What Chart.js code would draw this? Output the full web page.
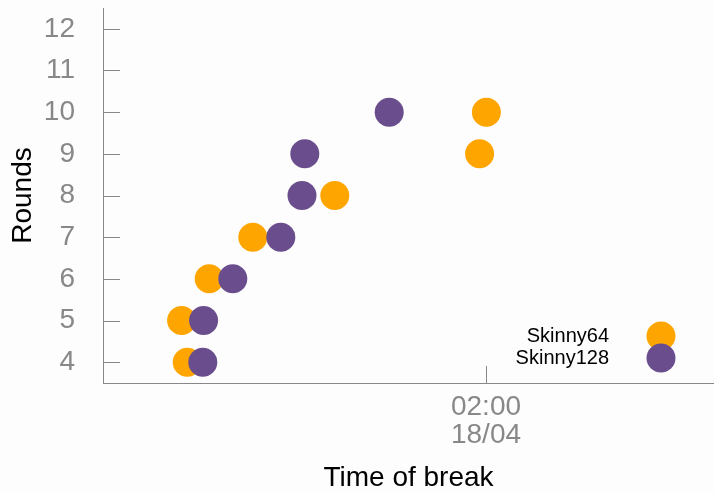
<!DOCTYPE html>
<html>
<head>
<meta charset="utf-8">
<script src="https://cdn.jsdelivr.net/npm/chart.js@4/dist/chart.umd.min.js"></script>
<style>
  body { margin: 0; background: #fdfdfd; }
  #wrap { width: 714px; height: 493px; }
</style>
</head>
<body>
<div id="wrap"><canvas id="graficoRondas"></canvas></div>
<script>
// hours relative to 18/04 00:00
const rondas = [4, 5, 6, 7, 8, 9, 10]
const horasSkinny64 = [-5.47, -5.61, -4.92, -3.83, -1.78, 1.84, 2.01]
const horasSkinny128 = [-5.08, -5.06, -4.33, -3.13, -2.60, -2.53, -0.42]
const ticksY = [4, 5, 6, 7, 8, 9, 10, 11, 12]
const ticksX = [2]
const etiquetaX = { 2: ["02:00", "18/04"] }

const gris = "#888888"
const fuente = "'Liberation Sans', Arial, sans-serif"

const puntos = (horas) => horas.map((h, i) => ({ x: h, y: rondas[i] }))

// tick marks drawn inside the plot, plus the legend at the lower right
const marcasYLeyenda = {
  id: "marcasYLeyenda",
  afterDraw(chart) {
    const ctx = chart.ctx
    const area = chart.chartArea
    const x = chart.scales.x
    const y = chart.scales.y
    ctx.save()
    ctx.strokeStyle = gris
    ctx.lineWidth = 1
    ctx.beginPath()
    y.ticks.forEach((t) => {
      const py = Math.round(y.getPixelForValue(t.value)) + 0.5
      ctx.moveTo(area.left, py)
      ctx.lineTo(area.left + 17, py)
    })
    x.ticks.forEach((t) => {
      const px = Math.round(x.getPixelForValue(t.value)) + 0.5
      ctx.moveTo(px, area.bottom)
      ctx.lineTo(px, area.bottom - 17)
    })
    ctx.stroke()

    ctx.font = "20px " + fuente
    ctx.textAlign = "right"
    ctx.textBaseline = "middle"
    const filas = [area.bottom - 47, area.bottom - 25]
    chart.data.datasets.forEach((ds, i) => {
      ctx.fillStyle = "#000"
      ctx.fillText(ds.label, area.right - 105, filas[i])
    })
    chart.data.datasets.forEach((ds, i) => {
      ctx.fillStyle = ds.backgroundColor
      ctx.beginPath()
      ctx.arc(area.right - 53, filas[i], 14.5, 0, Math.PI * 2)
      ctx.fill()
    })
    ctx.restore()
  },
}

const lienzo = document.getElementById("graficoRondas")

new Chart(lienzo, {
  type: "scatter",
  data: {
    datasets: [
      {
        label: "Skinny64",
        data: puntos(horasSkinny64),
        backgroundColor: "#FFA500",
        borderWidth: 0,
        pointRadius: 14.5,
        pointHoverRadius: 14.5,
        order: 1,
      },
      {
        label: "Skinny128",
        data: puntos(horasSkinny128),
        backgroundColor: "#6A4D8D",
        borderWidth: 0,
        pointRadius: 14.5,
        pointHoverRadius: 14.5,
        order: 0,
      },
    ],
  },
  options: {
    responsive: true,
    maintainAspectRatio: false,
    animation: false,
    events: [],
    layout: { autoPadding: false, padding: { top: 8, right: 0, left: 0, bottom: 0 } },
    plugins: {
      legend: { display: false },
      tooltip: { enabled: false },
    },
    scales: {
      x: {
        type: "linear",
        min: -7.575,
        max: 7.7,
        afterBuildTicks: (s) => { s.ticks = ticksX.map((v) => ({ value: v })) },
        afterFit: (s) => {
          s.height = 110
          s.paddingLeft = 0
          s.paddingRight = 0
        },
        grid: { display: false, drawTicks: false },
        border: { display: true, color: gris, width: 1 },
        ticks: {
          color: gris,
          padding: 10,
          maxRotation: 0,
          font: { family: fuente, size: 28, lineHeight: 1.0 },
          callback: (v) => etiquetaX[v] || "",
        },
        title: {
          display: true,
          text: "Time of break",
          color: "#000",
          font: { family: fuente, size: 28, lineHeight: 1.05 },
          padding: { top: 0, bottom: 0 },
        },
      },
      y: {
        min: 3.5,
        max: 12.5,
        afterBuildTicks: (s) => { s.ticks = ticksY.map((v) => ({ value: v })) },
        afterFit: (s) => {
          s.width = 103
          s.paddingTop = 0
          s.paddingBottom = 0
        },
        grid: { display: false, drawTicks: false },
        border: { display: true, color: gris, width: 1 },
        ticks: {
          color: gris,
          padding: 28,
          font: { family: fuente, size: 28 },
        },
        title: {
          display: true,
          text: "Rounds",
          color: "#000",
          font: { family: fuente, size: 28, lineHeight: 1.05 },
          padding: { top: 9, bottom: 0 },
        },
      },
    },
  },
  plugins: [marcasYLeyenda],
})
</script>
</body>
</html>
